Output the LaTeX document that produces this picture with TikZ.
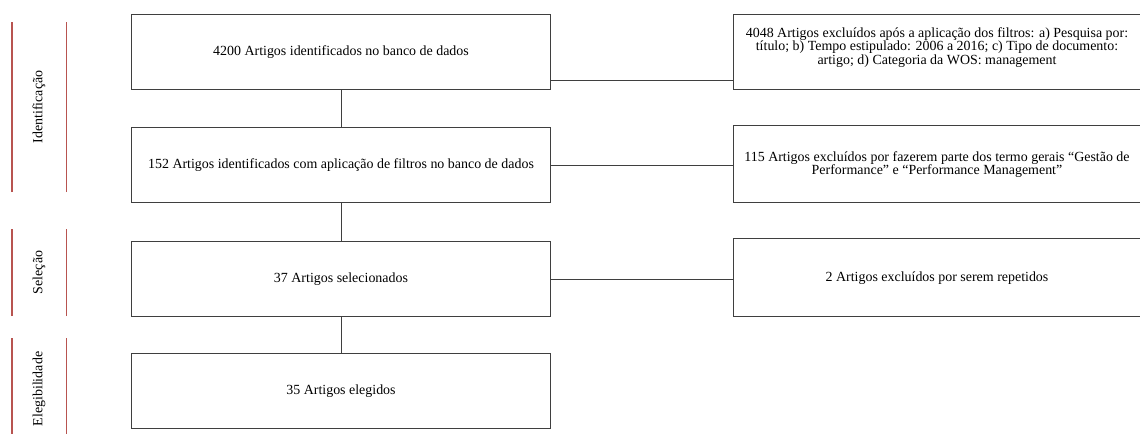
\documentclass[tikz,border=0pt]{standalone}
\usepackage{fontspec}
\setmainfont{Liberation Serif}
\usetikzlibrary{positioning}

\definecolor{fasered}{HTML}{B85450}
\definecolor{bordagray}{HTML}{3F3F3F}

\tikzset{
  caixa/.style={draw=bordagray, line width=1bp, minimum width=418bp,
    minimum height=75bp, align=center, inner sep=0pt,
    font=\fontsize{14}{13.5}\selectfont},
  exclui/.style={caixa, minimum width=408bp},
  fase/.style={rotate=90, minimum height=54bp, inner sep=0pt,
    font=\fontsize{14}{14}\selectfont},
  liga/.style={draw=bordagray, line width=0.9bp},
  marca/.style={draw=fasered, line width=1.4bp}
}

\begin{document}
\begin{tikzpicture}[x=1bp, y=-1bp]
  \useasboundingbox (0,0) rectangle (1140,434);

  % fases
  \node[fase, minimum width=170bp] (ident) at (39,107) {Identificação};
  \node[fase, minimum width=87bp] (selec) at (39,272.5) {Seleção};
  \node[fase, minimum width=102bp] (eleg) at (39,389) {Elegibilidade};
  \foreach \f in {ident, selec, eleg} {
    \draw[marca] (\f.north west) -- (\f.north east);
    \draw[marca] (\f.south west) -- (\f.south east);
  }

  % caixas principais
  \node[caixa] (art) at (341,52.5) {4200 Artigos identificados no banco de dados};
  \node[caixa] (filt) at (341,165.5) {152 Artigos identificados com aplicação de filtros no banco de dados};
  \node[caixa] (sel) at (341,279.5) {37 Artigos selecionados};
  \node[caixa] (eleg) at (341,391.5) {35 Artigos elegidos};

  % caixas de exclusao
  \node[exclui, text depth=13bp] (exc1) at (937,52.5) {4048 Artigos excluídos após a aplicação dos filtros: a) Pesquisa por:\\
    título; b) Tempo estipulado: 2006 a 2016; c) Tipo de documento:\\
    artigo; d) Categoria da WOS: management};
  \node[exclui, minimum height=77bp] (exc2) at (937,164.5) {115 Artigos excluídos por fazerem parte dos termo gerais “Gestão de\\
    Performance” e “Performance Management”};
  \node[exclui, minimum height=78bp] (exc3) at (937,278) {2 Artigos excluídos por serem repetidos};

  % ligacoes
  \draw[liga] (art) -- (filt);
  \draw[liga] (filt) -- (sel);
  \draw[liga] (sel) -- (eleg);
  \draw[liga] ([yshift=-27.5bp]art.east) -- ([yshift=-27.5bp]art.east -| exc1.west);
  \draw[liga] (filt.east) -- (filt.east -| exc2.west);
  \draw[liga] (sel.east) -- (sel.east -| exc3.west);
\end{tikzpicture}
\end{document}
